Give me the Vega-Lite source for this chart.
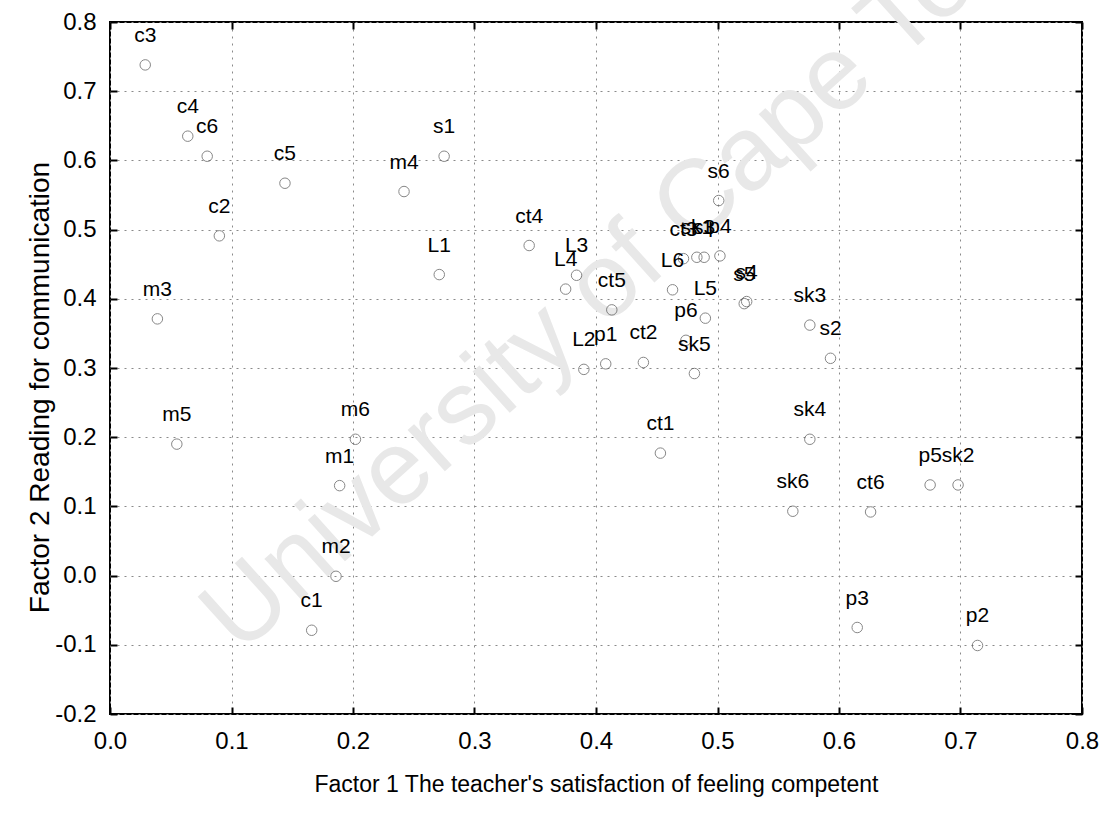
{
  "$schema": "https://vega.github.io/schema/vega-lite/v6.json",
  "width": 972,
  "height": 692,
  "autosize": {"type": "none"},
  "padding": {"left": 110, "top": 22, "right": 20, "bottom": 104},
  "background": "white",
  "config": {
    "view": {"stroke": "black", "strokeWidth": 2},
    "font": "Liberation Sans",
    "axis": {
      "labelFont": "Liberation Sans",
      "titleFont": "Liberation Sans",
      "labelColor": "black",
      "titleColor": "black",
      "titleFontWeight": "normal",
      "domain": false,
      "gridColor": "#8a8a8a",
      "gridDash": [2, 5],
      "gridWidth": 1,
      "tickColor": "black",
      "tickWidth": 2,
      "tickSize": -7
    }
  },
  "datasets": {
    "pts": [
      {"label": "c1", "f1": 0.166, "f2": -0.079},
      {"label": "c2", "f1": 0.090, "f2": 0.491},
      {"label": "c3", "f1": 0.029, "f2": 0.738},
      {"label": "c4", "f1": 0.064, "f2": 0.635},
      {"label": "c5", "f1": 0.144, "f2": 0.567},
      {"label": "c6", "f1": 0.080, "f2": 0.606},
      {"label": "m1", "f1": 0.189, "f2": 0.130},
      {"label": "m2", "f1": 0.186, "f2": -0.001},
      {"label": "m3", "f1": 0.039, "f2": 0.371},
      {"label": "m4", "f1": 0.242, "f2": 0.555},
      {"label": "m5", "f1": 0.055, "f2": 0.190},
      {"label": "m6", "f1": 0.202, "f2": 0.197},
      {"label": "L1", "f1": 0.271, "f2": 0.435},
      {"label": "L2", "f1": 0.390, "f2": 0.298},
      {"label": "L3", "f1": 0.384, "f2": 0.434},
      {"label": "L4", "f1": 0.375, "f2": 0.414},
      {"label": "L5", "f1": 0.490, "f2": 0.372},
      {"label": "L6", "f1": 0.463, "f2": 0.413},
      {"label": "ct1", "f1": 0.453, "f2": 0.177},
      {"label": "ct2", "f1": 0.439, "f2": 0.308},
      {"label": "ct3", "f1": 0.472, "f2": 0.458},
      {"label": "ct4", "f1": 0.345, "f2": 0.477},
      {"label": "ct5", "f1": 0.413, "f2": 0.384},
      {"label": "ct6", "f1": 0.626, "f2": 0.092},
      {"label": "s1", "f1": 0.275, "f2": 0.606},
      {"label": "s2", "f1": 0.593, "f2": 0.314},
      {"label": "s3", "f1": 0.489, "f2": 0.460},
      {"label": "s4", "f1": 0.524, "f2": 0.396},
      {"label": "s5", "f1": 0.522, "f2": 0.393},
      {"label": "s6", "f1": 0.501, "f2": 0.542},
      {"label": "sk1", "f1": 0.483, "f2": 0.460},
      {"label": "sk2", "f1": 0.698, "f2": 0.131},
      {"label": "sk3", "f1": 0.576, "f2": 0.362},
      {"label": "sk4", "f1": 0.576, "f2": 0.197},
      {"label": "sk5", "f1": 0.481, "f2": 0.292},
      {"label": "sk6", "f1": 0.562, "f2": 0.093},
      {"label": "p1", "f1": 0.408, "f2": 0.306},
      {"label": "p2", "f1": 0.714, "f2": -0.101},
      {"label": "p3", "f1": 0.615, "f2": -0.075},
      {"label": "p4", "f1": 0.502, "f2": 0.462},
      {"label": "p5", "f1": 0.675, "f2": 0.131},
      {"label": "p6", "f1": 0.474, "f2": 0.340}
    ],
    "wm": [
      {"w": "University of Cape Town", "f1": 0.435, "f2": 0.465}
    ]
  },
  "resolve": {"axis": {"x": "independent", "y": "independent"}},
  "layer": [
    {
      "data": {"name": "wm"},
      "mark": {"type": "text", "angle": -42, "fontSize": 105, "font": "Liberation Sans", "color": "#e8e8e8", "align": "center", "baseline": "middle"},
      "encoding": {
        "x": {"field": "f1", "type": "quantitative", "scale": {"domain": [0, 0.8], "nice": false, "zero": false}, "axis": null},
        "y": {"field": "f2", "type": "quantitative", "scale": {"domain": [-0.2, 0.8], "nice": false, "zero": false}, "axis": null},
        "text": {"field": "w"}
      }
    },
    {
      "data": {"name": "pts"},
      "mark": {"type": "point", "shape": "circle", "filled": false, "size": 110, "stroke": "#555555", "strokeWidth": 1},
      "encoding": {
        "x": {
          "field": "f1", "type": "quantitative",
          "scale": {"domain": [0, 0.8], "nice": false, "zero": false},
          "axis": {"orient": "bottom", "values": [0, 0.1, 0.2, 0.3, 0.4, 0.5, 0.6, 0.7, 0.8], "labelExpr": "datum.value < 0 ? '-' + format(-datum.value, '.1f') : format(datum.value, '.1f')", "labelFontSize": 24, "labelPadding": 22, "grid": true, "title": "Factor 1 The teacher's satisfaction of feeling competent", "titleFontSize": 23, "titlePadding": 20, "labelFlush": false}
        },
        "y": {
          "field": "f2", "type": "quantitative",
          "scale": {"domain": [-0.2, 0.8], "nice": false, "zero": false},
          "axis": {"orient": "left", "values": [-0.2, -0.1, 0, 0.1, 0.2, 0.3, 0.4, 0.5, 0.6, 0.7, 0.8], "labelExpr": "datum.value < 0 ? '-' + format(-datum.value, '.1f') : format(datum.value, '.1f')", "labelFontSize": 24, "labelPadding": 21, "grid": true, "title": "Factor 2  Reading for communication", "titleFontSize": 28, "titleX": -70, "titleY": 365, "titleBaseline": "middle", "labelFlush": false}
        }
      }
    },
    {
      "data": {"name": "pts"},
      "mark": {"type": "text", "fontSize": 21, "font": "Liberation Sans", "color": "black", "dy": -29, "align": "center", "baseline": "middle"},
      "encoding": {
        "x": {"field": "f1", "type": "quantitative", "scale": {"domain": [0, 0.8], "nice": false, "zero": false},
          "axis": {"orient": "top", "values": [0, 0.1, 0.2, 0.3, 0.4, 0.5, 0.6, 0.7, 0.8], "labels": false, "grid": false, "title": null}},
        "y": {"field": "f2", "type": "quantitative", "scale": {"domain": [-0.2, 0.8], "nice": false, "zero": false},
          "axis": {"orient": "right", "values": [-0.2, -0.1, 0, 0.1, 0.2, 0.3, 0.4, 0.5, 0.6, 0.7, 0.8], "labels": false, "grid": false, "title": null}},
        "text": {"field": "label"}
      }
    }
  ]
}
